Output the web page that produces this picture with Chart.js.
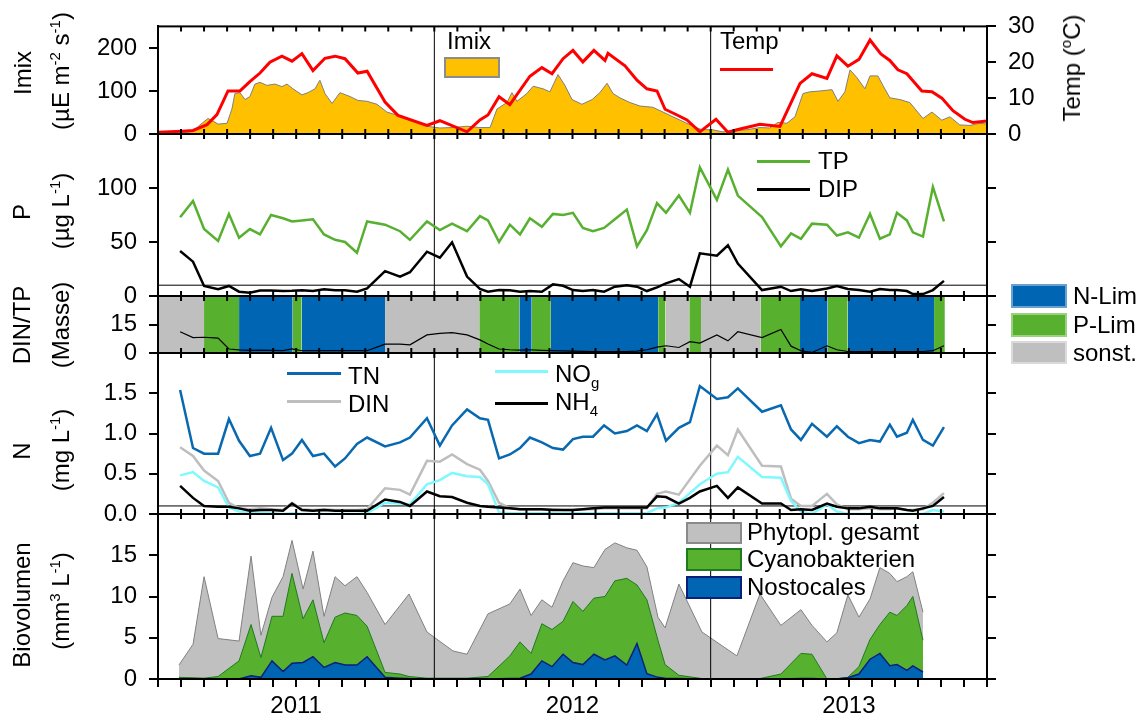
<!DOCTYPE html>
<html lang="de">
<head>
<meta charset="utf-8">
<script src="https://cdn.jsdelivr.net/npm/chart.js@4.4.1/dist/chart.umd.min.js"></script>
<style>
  body { margin: 0; background: #fff; }
  #bild { position: relative; width: 1144px; height: 722px; font-family: "Liberation Sans", Arial, sans-serif; color: #000; }
  #bild canvas { position: absolute; left: 0; top: 0; }
  .txt { position: absolute; font-size: 24px; line-height: 1; white-space: nowrap; }
  .rot { transform: translate(-50%, -50%) rotate(-90deg); }
  sup, sub { font-size: 15px; line-height: 0; }
  .box { position: absolute; box-sizing: border-box; border: 2px solid; }
  .strich { position: absolute; height: 3px; }
</style>
</head>
<body>
<div id="bild">
  <canvas id="p1" width="1144" height="722"></canvas>
  <canvas id="p2" width="1144" height="722"></canvas>
  <canvas id="p3" width="1144" height="722"></canvas>
  <canvas id="p4" width="1144" height="722"></canvas>
  <canvas id="p5" width="1144" height="722"></canvas>

  <!-- Achsentitel -->
  <div class="txt rot" style="left:23px;top:73px">Imix</div>
  <div class="txt rot" style="left:61px;top:71px">(µE m<sup>-2</sup> s<sup>-1</sup>)</div>
  <div class="txt rot" style="left:1072px;top:68px">Temp (<sup>o</sup>C)</div>
  <div class="txt rot" style="left:22px;top:212px">P</div>
  <div class="txt rot" style="left:61px;top:211px">(µg L<sup>-1</sup>)</div>
  <div class="txt rot" style="left:22px;top:325px">DIN/TP</div>
  <div class="txt rot" style="left:61px;top:325px">(Masse)</div>
  <div class="txt rot" style="left:22px;top:451px">N</div>
  <div class="txt rot" style="left:61px;top:450px">(mg L<sup>-1</sup>)</div>
  <div class="txt rot" style="left:22px;top:605px">Biovolumen</div>
  <div class="txt rot" style="left:61px;top:601px">(mm<sup>3</sup> L<sup>-1</sup>)</div>

  <!-- Legenden -->
  <div class="txt" style="left:447px;top:29px">Imix</div>
  <div class="box" style="left:444px;top:57px;width:56px;height:21px;background:#FFC000;border-color:#8c8c8c"></div>
  <div class="txt" style="left:720px;top:29px">Temp</div>
  <div class="strich" style="left:720px;top:68px;width:53px;background:#FF0000"></div>

  <div class="strich" style="left:757px;top:160px;width:53px;background:#58B030"></div>
  <div class="txt" style="left:818px;top:149px">TP</div>
  <div class="strich" style="left:757px;top:188px;width:53px;background:#000"></div>
  <div class="txt" style="left:818px;top:177px">DIP</div>

  <div class="strich" style="left:287px;top:372px;width:54px;background:#0868B0"></div>
  <div class="txt" style="left:348px;top:364px">TN</div>
  <div class="strich" style="left:287px;top:400px;width:54px;background:#BEBEBE"></div>
  <div class="txt" style="left:348px;top:392px">DIN</div>
  <div class="strich" style="left:495px;top:370px;width:53px;background:#80F8FF"></div>
  <div class="txt" style="left:555px;top:362px">NO<sub>g</sub></div>
  <div class="strich" style="left:495px;top:402px;width:53px;background:#000"></div>
  <div class="txt" style="left:555px;top:390px">NH<sub>4</sub></div>

  <div class="box" style="left:1011px;top:284px;width:56px;height:24px;background:#0066B3;border-color:#6A9FD0"></div>
  <div class="txt" style="left:1073px;top:284px">N-Lim</div>
  <div class="box" style="left:1011px;top:313px;width:56px;height:24px;background:#57B12F;border-color:#9AD07E"></div>
  <div class="txt" style="left:1073px;top:313px">P-Lim</div>
  <div class="box" style="left:1011px;top:341px;width:56px;height:23px;background:#BFBFBF;border-color:#DADADA"></div>
  <div class="txt" style="left:1073px;top:341px">sonst.</div>

  <div class="box" style="left:686px;top:522px;width:56px;height:22px;background:#C0C0C0;border-color:#8A8A8A"></div>
  <div class="txt" style="left:747px;top:520px">Phytopl. gesamt</div>
  <div class="box" style="left:686px;top:548px;width:56px;height:23px;background:#57B12F;border-color:#1E7B1E"></div>
  <div class="txt" style="left:747px;top:547px">Cyanobakterien</div>
  <div class="box" style="left:686px;top:576px;width:56px;height:23px;background:#0066B3;border-color:#0A1F7A"></div>
  <div class="txt" style="left:747px;top:575px">Nostocales</div>
</div>

<script>
// Zeitachse in Monaten seit 01.01.2011 (36 = 01.01.2014)
const jahrLabels = ['2011', '2012', '2013'];
const jahrMitte = [6, 18, 30];
const jahrGrenzen = [12, 24];

// beschriftete Werte der y-Achsen
const ticksImix = [0, 100, 200];
const ticksTemp = [0, 10, 20, 30];
const ticksP = [0, 50, 100];
const ticksDinTp = [0, 15];
const ticksN = [0, 0.5, 1.0, 1.5];
const ticksBio = [0, 5, 10, 15];

// Licht im Mischungsbereich (µE m-2 s-1)
const imixMonat = [0.00, 0.96, 1.52, 1.82, 2.17, 2.39, 2.61, 3.00, 3.21, 3.34, 3.56, 3.78, 3.99, 4.21, 4.43, 4.73, 5.08, 5.38, 5.60, 5.86,
    6.25, 6.51, 6.82, 7.03, 7.25, 7.56, 7.90, 8.34, 8.68, 9.08, 9.51, 9.94, 10.42, 11.07, 11.68, 12.24, 12.81, 13.42, 13.98, 14.42,
    14.72, 15.15, 15.37, 15.59, 16.02, 16.29, 16.72, 17.02, 17.37, 17.67, 17.98, 18.41, 18.85, 19.19, 19.50, 19.76, 20.06, 20.50, 20.93, 21.49,
    21.93, 22.36, 22.80, 23.23, 23.62, 24.06, 24.53, 24.97, 25.58, 26.14, 26.57, 26.92, 27.31, 27.66, 28.01, 28.31, 28.75, 29.27, 29.53, 29.83,
    30.05, 30.35, 30.70, 30.92, 31.26, 31.48, 31.78, 32.22, 32.65, 33.22, 33.61, 34.04, 34.39, 34.82, 35.26, 35.69, 36.00];
const imixWert = [0, 2, 6, 21, 36, 30, 23, 25, 58, 94, 96, 80, 87, 116, 120, 113, 116, 110, 116, 105,
    91, 96, 105, 125, 94, 71, 96, 87, 78, 76, 69, 51, 43, 29, 18, 14, 15, 18, 15, 15,
    58, 73, 96, 76, 94, 111, 105, 98, 138, 113, 80, 69, 80, 96, 118, 94, 84, 73, 65, 62,
    51, 40, 29, 18, 10, 10, 5, 7, 10, 15, 14, 27, 25, 40, 94, 98, 100, 103, 76, 98,
    149, 131, 105, 135, 135, 113, 84, 80, 73, 36, 51, 32, 40, 21, 20, 25, 23];

// Wassertemperatur (°C)
const tempMonat = [0.00, 1.04, 1.52, 2.13, 2.56, 3.04, 3.56, 3.99, 4.43, 4.86, 5.38, 5.82, 6.25, 6.73, 7.25, 7.69, 8.12, 8.68, 9.08, 9.86,
    10.42, 11.68, 12.24, 13.42, 13.98, 14.33, 14.81, 15.28, 16.15, 16.67, 17.11, 17.59, 18.02, 18.45, 18.93, 19.41, 19.54, 20.28, 20.80, 21.23,
    21.67, 22.02, 22.54, 22.97, 23.53, 24.23, 24.75, 25.14, 26.14, 27.01, 27.88, 28.40, 29.05, 29.48, 29.96, 30.44, 30.92, 31.39, 31.78, 32.13,
    32.52, 33.17, 33.61, 34.04, 34.52, 35.04, 35.39, 36.00];
const tempWert = [0.5, 0.8, 1.0, 2.6, 5.4, 12.0, 12.0, 14.6, 17.0, 20.0, 21.7, 20.3, 22.4, 17.7, 21.1, 21.7, 21.0, 17.0, 17.5, 8.9,
    5.2, 2.4, 3.7, 0.6, 3.9, 5.3, 10.4, 8.2, 16.1, 18.5, 16.8, 21.0, 23.3, 20.1, 23.3, 20.5, 22.5, 19.0, 15.0, 12.6,
    12.0, 6.9, 5.3, 3.9, 0.6, 4.1, 0.5, 1.2, 2.7, 2.1, 14.1, 16.8, 15.5, 21.8, 18.9, 20.8, 26.2, 22.3, 20.5, 17.9,
    16.8, 12.0, 11.8, 10.0, 6.5, 4.1, 3.2, 3.6];

// Probenahmen Wasserchemie
const chemieMonat = [0.96, 1.52, 2.00, 2.61, 3.08, 3.52, 3.99, 4.43, 4.91, 5.43, 5.82, 6.25, 6.73, 7.21, 7.69, 8.12, 8.64, 9.08, 9.86, 10.51,
    10.94, 11.68, 12.24, 12.77, 13.42, 13.98, 14.33, 14.81, 15.28, 15.72, 16.15, 16.67, 17.15, 17.59, 18.02, 18.45, 18.89, 19.37, 19.84, 20.36,
    20.80, 21.23, 21.67, 22.06, 22.62, 23.10, 23.53, 24.27, 24.75, 25.18, 26.23, 27.05, 27.49, 27.92, 28.40, 29.05, 29.48, 29.96, 30.44, 30.92,
    31.35, 31.78, 32.09, 32.52, 32.78, 33.22, 33.65, 34.13];
const tp = [73, 88, 62, 51, 76, 54, 62, 57, 75, 72, 69, 70, 71, 57, 52, 50, 40, 69, 66, 60,
    52, 69, 61, 67, 60, 74, 70, 50, 66, 57, 72, 64, 76, 75, 77, 63, 60, 63, 71, 80,
    46, 61, 86, 77, 93, 77, 119, 89, 117, 93, 73, 46, 58, 53, 67, 66, 56, 59, 54, 76,
    53, 57, 77, 70, 59, 55, 101, 69];
const dip = [41.7, 31.8, 9.3, 6.2, 9.3, 4, 3, 5, 5, 4.6, 4.8, 5.3, 4.6, 6.2, 5.3, 5.3, 4, 7, 23, 18,
    22, 41, 35.5, 49.7, 18, 6.5, 4, 5.5, 5.3, 4, 4.6, 4, 10.8, 9.5, 5.5, 4.6, 5.5, 4, 8.6, 10,
    8.6, 4.6, 8, 11.7, 15.7, 8.6, 39.5, 37.3, 47, 30, 5.5, 8.6, 4.6, 6.2, 4.6, 7, 9.3, 6.5, 5.5, 4,
    6.5, 5.5, 5.5, 4.6, 1.8, 1.8, 5.5, 14];
const dinTp = [11.2, 8.1, 8.3, 7.8, 2.1, 1.6, 1.4, 1.5, 1.4, 1.3, 2.2, 1.2, 1.3, 1.3, 1.3, 1.3, 1.2, 1.2, 4.7, 4.7,
    4.3, 9.5, 10.3, 10.7, 9.5, 6.9, 4.7, 2.1, 1.7, 1.5, 1.7, 1.4, 1.2, 1.1, 1.0, 0.9, 0.7, 0.8, 0.8, 0.8,
    1.0, 1.7, 3.1, 3.8, 2.9, 6.0, 5.2, 9.5, 6.4, 11.2, 8.1, 12.4, 3.6, 1.2, 0.3, 3.8, 1.7, 0.8, 0.8, 0.8,
    0.8, 0.8, 0.8, 0.8, 0.8, 0.8, 1.2, 3.8];
const tn = [1.54, 0.82, 0.75, 0.75, 1.18, 0.91, 0.72, 0.75, 1.07, 0.67, 0.75, 0.92, 0.72, 0.75, 0.59, 0.69, 0.87, 0.95, 0.84, 0.89,
    0.95, 1.19, 0.85, 1.10, 1.30, 1.19, 1.17, 0.69, 0.74, 0.82, 0.95, 0.89, 0.82, 0.80, 0.93, 0.96, 0.96, 1.10, 1.00, 1.03,
    1.10, 1.03, 1.24, 0.91, 1.07, 1.14, 1.59, 1.43, 1.45, 1.56, 1.27, 1.35, 1.05, 0.92, 1.12, 0.96, 1.09, 0.96, 0.88, 0.92,
    0.90, 1.11, 0.96, 1.01, 1.17, 0.92, 0.85, 1.08];
const din = [0.83, 0.72, 0.54, 0.41, 0.14, 0.07, 0.06, 0.07, 0.06, 0.05, 0.14, 0.06, 0.05, 0.06, 0.05, 0.05, 0.05, 0.06, 0.32, 0.30,
    0.24, 0.66, 0.65, 0.74, 0.62, 0.55, 0.41, 0.14, 0.07, 0.06, 0.06, 0.06, 0.06, 0.05, 0.05, 0.06, 0.06, 0.07, 0.07, 0.07,
    0.07, 0.07, 0.25, 0.28, 0.24, 0.43, 0.60, 0.85, 0.73, 1.05, 0.60, 0.59, 0.19, 0.10, 0.10, 0.25, 0.12, 0.06, 0.06, 0.07,
    0.06, 0.06, 0.07, 0.05, 0.05, 0.06, 0.14, 0.26];
const nog = [0.48, 0.52, 0.41, 0.33, 0.08, 0.03, 0.02, 0.02, 0.01, 0.00, 0.01, 0.00, 0.00, 0.00, 0.00, 0.00, 0.00, 0.01, 0.14, 0.13,
    0.12, 0.37, 0.42, 0.51, 0.47, 0.46, 0.37, 0.02, 0.01, 0.01, 0.01, 0.01, 0.01, 0.01, 0.01, 0.01, 0.01, 0.01, 0.01, 0.01,
    0.01, 0.01, 0.07, 0.08, 0.14, 0.26, 0.37, 0.50, 0.52, 0.71, 0.46, 0.45, 0.16, 0.03, 0.00, 0.12, 0.03, 0.00, 0.00, 0.00,
    0.00, 0.00, 0.00, 0.00, 0.00, 0.00, 0.05, 0.03];
const nh4 = [0.35, 0.20, 0.10, 0.09, 0.09, 0.07, 0.04, 0.05, 0.05, 0.04, 0.13, 0.05, 0.04, 0.05, 0.04, 0.04, 0.04, 0.04, 0.18, 0.15,
    0.10, 0.28, 0.22, 0.21, 0.14, 0.10, 0.09, 0.08, 0.07, 0.06, 0.06, 0.06, 0.05, 0.05, 0.05, 0.06, 0.07, 0.08, 0.08, 0.08,
    0.08, 0.08, 0.22, 0.21, 0.13, 0.20, 0.28, 0.35, 0.20, 0.33, 0.13, 0.13, 0.05, 0.06, 0.05, 0.13, 0.09, 0.07, 0.07, 0.09,
    0.07, 0.07, 0.07, 0.05, 0.04, 0.07, 0.10, 0.21];

// Grenzwerte (waagerechte Linien)
const grenzeDip = 10;
const grenzeN = 0.1;

// Limitation (Zeitabschnitte)
const limStart = [0, 2.00, 3.52, 5.85, 6.24, 9.86, 13.95, 15.69, 16.23, 17.06, 21.72, 22.04, 23.07, 23.58, 26.18, 27.88, 29.08, 29.95, 33.70];
const limEnde = [2.00, 3.52, 5.85, 6.24, 9.86, 13.95, 15.69, 16.23, 17.06, 21.72, 22.04, 23.07, 23.58, 26.18, 27.88, 29.08, 29.95, 33.70, 34.17];
const limArt = ['sonst', 'P', 'N', 'P', 'N', 'sonst', 'P', 'N', 'P', 'N', 'P', 'sonst', 'P', 'sonst', 'P', 'N', 'P', 'N', 'P'];

// Biovolumen (mm3 L-1)
const bioMonat = [0.91, 1.52, 2.00, 2.61, 3.52, 4.04, 4.47, 4.95, 5.43, 5.82, 6.30, 6.73, 7.21, 7.69, 8.12, 8.64, 9.08, 9.86, 10.51, 10.90,
    11.68, 12.81, 13.42, 14.33, 15.28, 15.72, 16.20, 16.67, 17.11, 17.59, 18.02, 18.45, 18.93, 19.41, 19.84, 20.36, 20.80, 21.23, 21.71, 22.02,
    22.62, 23.62, 25.14, 26.14, 27.05, 27.92, 28.40, 29.05, 29.48, 29.96, 30.44, 30.92, 31.35, 31.78, 32.09, 32.52, 32.78, 33.22];
const phytoGesamt = [1.7, 4.2, 12.4, 4.9, 4.6, 14.9, 5.3, 9.9, 12.4, 16.8, 10.9, 15.5, 7.6, 12.4, 11.3, 12.4, 10.5, 6.6, 8.9, 10.3,
    5.7, 3.4, 3.0, 7.9, 9.1, 10.9, 7.7, 9.6, 8.7, 11.9, 14.1, 13.7, 13.5, 15.7, 16.5, 15.9, 15.6, 13.6, 7.5, 6.2,
    11.5, 5.7, 2.8, 10.3, 6.5, 8.4, 6.5, 4.5, 5.6, 10.2, 7.5, 9.7, 13.5, 12.8, 11.8, 12.4, 13.0, 8.1];
const cyano = [0.2, 0.15, 0.1, 0.3, 2.2, 6.6, 2.6, 7.6, 7.6, 12.8, 7.3, 9.6, 4.4, 7.5, 8.0, 7.7, 6.4, 0.8, 0.6, 0.3,
    0.1, 0.1, 0.1, 0.3, 2.8, 4.5, 3.1, 6.7, 6.0, 7.0, 9.4, 8.2, 9.8, 10.0, 11.9, 12.2, 11.4, 9.6, 4.7, 1.75,
    0.45, 0.05, 0.0, 0.05, 0.6, 3.1, 3.0, 0.0, 0.05, 0.2, 1.5, 4.8, 6.6, 8.1, 7.7, 8.9, 10.0, 4.7];
const nostocales = [0, 0, 0, 0, 0, 0.4, 0.2, 2.2, 0.9, 1.9, 2.0, 2.7, 1.4, 2.0, 1.7, 1.7, 2.7, 0.2, 0.1, 0.05,
    0, 0, 0, 0, 0.05, 0.1, 0.6, 2.2, 1.5, 3.0, 2.0, 1.75, 3.0, 2.3, 2.8, 1.7, 4.3, 0.65, 0.2, 0.1,
    0.05, 0, 0, 0, 0, 0.05, 0.05, 0, 0, 0.15, 0.6, 2.4, 3.1, 1.6, 1.75, 1.05, 1.6, 0.85];

const limFarbe = { N: '#0066B3', P: '#57B12F', sonst: '#BFBFBF' };

Chart.defaults.font.family = '"Liberation Sans", Arial, sans-serif';
Chart.defaults.font.size = 24;
Chart.defaults.color = '#000';

function punkte(xs, ys) {
    return xs.map((x, i) => ({ x: x, y: ys[i] }));
}

function linie(daten, farbe, breite, achse) {
    return { data: daten, yAxisID: achse, borderColor: farbe, borderWidth: breite, pointRadius: 0, fill: false, tension: 0 };
}

// senkrechte Linien an den Jahreswechseln
function jahresLinien(achse, max) {
    return jahrGrenzen.map(j => linie([{ x: j, y: 0 }, { x: j, y: max }], '#000', 1, achse));
}

// Rahmen um die Zeichenfläche + kleine Monatsstriche nach innen
const rahmen = {
    id: 'rahmen',
    afterDatasetsDraw(chart, args, opts) {
        const { ctx, chartArea: a, scales: { x } } = chart;
        ctx.save();
        ctx.strokeStyle = '#000';
        ctx.lineWidth = 2;
        ctx.beginPath();
        for (let m = 1; m < 36; m++) {
            const px = x.getPixelForValue(m);
            ctx.moveTo(px, a.top);
            ctx.lineTo(px, a.top + 5);
            if (opts.unten) {
                ctx.moveTo(px, a.bottom);
                ctx.lineTo(px, a.bottom - 5);
            }
        }
        ctx.stroke();
        ctx.strokeRect(a.left, a.top, a.width, a.height);
        ctx.restore();
    }
};

// y-Achse mit festen Tickwerten; mitText = false -> nur Striche
function yAchse(pos, max, werte, nk, mitText) {
    return {
        position: pos, min: 0, max: max,
        border: { display: true, color: '#000', width: 2 },
        grid: { drawOnChartArea: false, color: '#000', lineWidth: 2, tickLength: 9 },
        ticks: { padding: 12, autoSkip: false, callback: v => mitText ? v.toFixed(nk) : '' },
        afterBuildTicks: s => { s.ticks = werte.map(v => ({ value: v })); },
        afterFit: s => { s.width = pos === 'left' ? 158 : 157; }
    };
}

function xAchse(sichtbar) {
    return {
        type: 'linear', min: 0, max: 36, display: sichtbar,
        border: { display: true, color: '#000', width: 2 },
        grid: { drawOnChartArea: false, color: '#000', lineWidth: 2, tickLength: 8 },
        ticks: {
            stepSize: 1, autoSkip: false, maxRotation: 0, padding: 5,
            callback: v => { const i = jahrMitte.indexOf(v); return i < 0 ? '' : jahrLabels[i]; }
        },
        afterFit: s => { s.height = sichtbar ? 40 : 0; }
    };
}

function panel(id, oben, unten, datasets, yl, yr, mitX) {
    return new Chart(document.getElementById(id), {
        type: 'line',
        data: { datasets: datasets },
        options: {
            responsive: false,
            animation: false,
            events: [],
            layout: { padding: { top: oben, bottom: mitX ? 722 - unten - 40 : 722 - unten, left: 0, right: 0 } },
            scales: { x: xAchse(mitX), yl: yl, yr: yr },
            plugins: { legend: { display: false }, tooltip: { enabled: false }, rahmen: { unten: !mitX } }
        },
        plugins: [rahmen]
    });
}

// 1: Imix und Temperatur
panel('p1', 19, 134, [
    linie(punkte(tempMonat, tempWert), '#FF0000', 3, 'yr'),
    ...jahresLinien('yl', 250),
    { data: punkte(imixMonat, imixWert), yAxisID: 'yl', borderColor: '#7F7F7F', borderWidth: 1, backgroundColor: '#FFC000', fill: 'origin', pointRadius: 0, tension: 0 }
], yAchse('left', 250, ticksImix, 0, true), yAchse('right', 30, ticksTemp, 0, true), false);

// 2: Phosphor
panel('p2', 134, 296, [
    linie(punkte(chemieMonat, tp), '#58B030', 2.5, 'yl'),
    linie(punkte(chemieMonat, dip), '#000', 2.5, 'yl'),
    linie([{ x: 0, y: grenzeDip }, { x: 36, y: grenzeDip }], '#000', 1, 'yl'),
    ...jahresLinien('yl', 150)
], yAchse('left', 150, ticksP, 0, true), yAchse('right', 150, ticksP, 0, false), false);

// 3: DIN/TP mit Limitationsbalken
const baender = limStart.map((s, i) => ({
    data: [{ x: s, y: 30 }, { x: limEnde[i], y: 30 }], yAxisID: 'yl',
    backgroundColor: limFarbe[limArt[i]], borderWidth: 0, pointRadius: 0, fill: 'origin'
}));
panel('p3', 296, 353, [
    linie(punkte(chemieMonat, dinTp), '#000', 1.2, 'yl'),
    ...baender
], yAchse('left', 30, ticksDinTp, 0, true), yAchse('right', 30, ticksDinTp, 0, false), false);

// 4: Stickstoff
panel('p4', 353, 514, [
    linie(punkte(chemieMonat, nh4), '#000', 2.5, 'yl'),
    linie(punkte(chemieMonat, nog), '#80F8FF', 2.5, 'yl'),
    linie(punkte(chemieMonat, din), '#BEBEBE', 2.5, 'yl'),
    linie(punkte(chemieMonat, tn), '#0868B0', 2.5, 'yl'),
    linie([{ x: 0, y: grenzeN }, { x: 36, y: grenzeN }], '#000', 1, 'yl'),
    ...jahresLinien('yl', 2)
], yAchse('left', 2, ticksN, 1, true), yAchse('right', 2, ticksN, 1, false), false);

// 5: Biovolumen
panel('p5', 514, 679, [
    ...jahresLinien('yl', 20),
    { data: punkte(bioMonat, nostocales), yAxisID: 'yl', borderColor: '#0A1F7A', borderWidth: 1.5, backgroundColor: '#0066B3', fill: 'origin', pointRadius: 0, tension: 0 },
    { data: punkte(bioMonat, cyano), yAxisID: 'yl', borderColor: '#1E7B1E', borderWidth: 1, backgroundColor: '#57B12F', fill: 'origin', pointRadius: 0, tension: 0 },
    { data: punkte(bioMonat, phytoGesamt), yAxisID: 'yl', borderColor: '#808080', borderWidth: 1, backgroundColor: '#C0C0C0', fill: 'origin', pointRadius: 0, tension: 0 }
], yAchse('left', 20, ticksBio, 0, true), yAchse('right', 20, ticksBio, 0, false), true);
</script>
</body>
</html>
